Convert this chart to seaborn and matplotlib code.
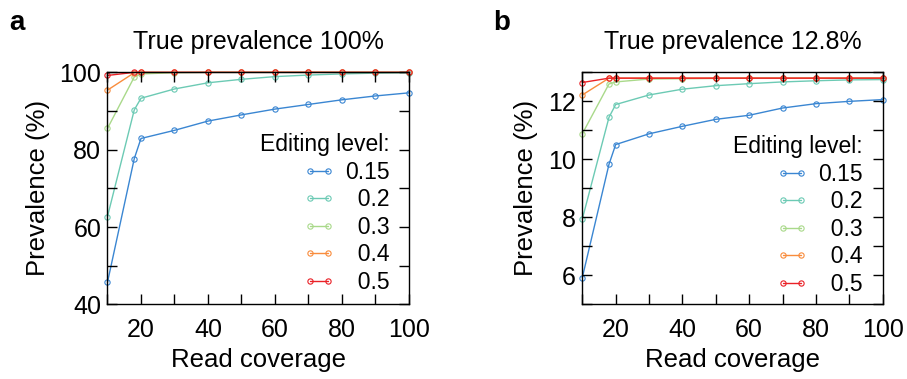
import numpy as np
import pandas as pd
import matplotlib
matplotlib.use("Agg")
import matplotlib.pyplot as plt
from matplotlib.ticker import MultipleLocator
import seaborn as sns

# ---------------- data ----------------
coverage = [10, 18, 20, 30, 40, 50, 60, 70, 80, 90, 100]
levels = ["0.15", "0.2", "0.3", "0.4", "0.5"]

a_015 = [45.7, 77.7, 82.9, 85.0, 87.4, 89.0, 90.5, 91.7, 92.9, 93.9, 94.7]
a_020 = [62.7, 90.3, 93.3, 95.7, 97.3, 98.2, 98.9, 99.3, 99.6, 99.8, 99.9]
a_030 = [85.5, 98.8, 99.6, 99.9, 100, 100, 100, 100, 100, 100, 100]
a_040 = [95.4, 99.9, 100, 100, 100, 100, 100, 100, 100, 100, 100]
a_050 = [99.2, 100, 100, 100, 100, 100, 100, 100, 100, 100, 100]

b_015 = [5.92, 9.83, 10.51, 10.88, 11.14, 11.38, 11.52, 11.77, 11.92, 12.0, 12.06]
b_020 = [7.94, 11.45, 11.89, 12.22, 12.42, 12.54, 12.61, 12.67, 12.71, 12.74, 12.75]
b_030 = [10.88, 12.6, 12.67, 12.77, 12.78, 12.79, 12.8, 12.8, 12.8, 12.8, 12.8]
b_040 = [12.22, 12.8, 12.8, 12.8, 12.8, 12.8, 12.8, 12.8, 12.8, 12.8, 12.8]
b_050 = [12.65, 12.8, 12.8, 12.8, 12.8, 12.8, 12.8, 12.8, 12.8, 12.8, 12.8]

titles = ["True prevalence 100%", "True prevalence 12.8%"]
panel_letters = ["a", "b"]
legend_labels = ["0.15", "\u20070.2", "\u20070.3", "\u20070.4", "\u20070.5"]
colors = ["#3a86d2", "#6ccab4", "#a9d98a", "#f98c3c", "#ea2127"]

def long_df(series):
    rows = []
    for lev, vals in zip(levels, series):
        for c, v in zip(coverage, vals):
            rows.append({"coverage": c, "prev": v, "level": lev})
    return pd.DataFrame(rows)

df_a = long_df([a_015, a_020, a_030, a_040, a_050])
df_b = long_df([b_015, b_020, b_030, b_040, b_050])

# ---------------- style ----------------
sns.set_style("ticks")
plt.rcParams["font.family"] = ["Liberation Sans", "DejaVu Sans"]
plt.rcParams["text.color"] = "black"
plt.rcParams["axes.labelcolor"] = "black"
plt.rcParams["xtick.color"] = "black"
plt.rcParams["ytick.color"] = "black"

fig = plt.figure(figsize=(9.07, 3.79), dpi=100)
ax_a = fig.add_axes([0.1185, 0.197, 0.3324, 0.6121])
ax_b = fig.add_axes([0.642, 0.197, 0.3312, 0.6121])

configs = [
    (ax_a, df_a, (40, 100), 20, 10, (0.937, 0.045)),
    (ax_b, df_b, (5, 13), 2, 1, (0.934, 0.036)),
]

for i, (ax, df, ylim, ymaj, ymin, anchor) in enumerate(configs):
    sns.lineplot(data=df, x="coverage", y="prev", hue="level", hue_order=levels,
                 palette=colors, marker="o", markersize=3.8, linewidth=1.0,
                 legend=False, ax=ax, clip_on=False)
    for ln in ax.lines:
        ln.set_markerfacecolor("none")
        ln.set_markeredgecolor(ln.get_color())
        ln.set_markeredgewidth(0.8)
    ax.set_xlim(10, 100)
    ax.set_ylim(*ylim)
    ax.xaxis.set_major_locator(MultipleLocator(20))
    ax.xaxis.set_minor_locator(MultipleLocator(10))
    ax.yaxis.set_major_locator(MultipleLocator(ymaj))
    ax.yaxis.set_minor_locator(MultipleLocator(ymin))
    ax.tick_params(which="both", direction="in", top=True, right=True,
                   length=7, width=1.0, color="black")
    ax.tick_params(axis="x", which="major", labelsize=18, pad=10)
    ax.tick_params(axis="y", which="major", labelsize=18, pad=4.5)
    for sp in ax.spines.values():
        sp.set_visible(True)
        sp.set_color("black")
        sp.set_linewidth(1.0)
    ax.set_axisbelow(False)
    ax.set_xlabel("Read coverage", fontsize=18.5, labelpad=4)
    ax.set_ylabel("Prevalence (%)", fontsize=18.5, labelpad=7)
    ax.set_title(titles[i], fontsize=18, pad=17)
    handles = ax.lines[:5]
    ax.legend(handles, legend_labels, title="Editing level:", loc="lower right",
              bbox_to_anchor=anchor, frameon=False, fontsize=16.5,
              title_fontsize=16.5, alignment="right", numpoints=2,
              handlelength=1.4, handletextpad=0.45, labelspacing=0.2,
              borderpad=0, borderaxespad=0)

fig.text(0.0099, 1 - 30 / 379, panel_letters[0], fontsize=20, fontweight="bold",
         va="baseline", ha="left")
fig.text(0.5436, 1 - 30 / 379, panel_letters[1], fontsize=20, fontweight="bold",
         va="baseline", ha="left")

fig.savefig("out.png", dpi=100)
